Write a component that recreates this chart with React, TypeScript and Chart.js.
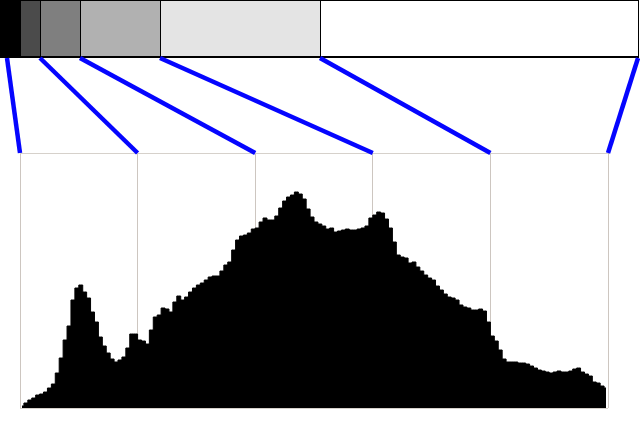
import React, { useEffect, useRef } from "react";
import { Chart, registerables } from "chart.js";

Chart.register(...registerables);

// Histogram heights (150 bins, 30 bins per tonal zone, 5 zones)
const binsPerZone = 30;
const histValues: number[] = [
  2, 5, 8, 10, 13, 14, 16, 20, 24, 35,
  50, 68, 82, 108, 120, 123, 116, 110, 96, 86,
  71, 62, 55, 49, 46, 48, 51, 60, 74, 74,
  68, 67, 64, 78, 91, 93, 100, 99, 96, 106,
  112, 108, 111, 116, 120, 123, 125, 128, 131, 132,
  132, 137, 143, 146, 158, 168, 172, 173, 175, 179,
  180, 186, 190, 188, 188, 192, 200, 207, 211, 213,
  216, 214, 209, 199, 191, 186, 184, 182, 179, 180,
  176, 177, 178, 179, 178, 178, 179, 180, 182, 190,
  193, 196, 195, 189, 180, 166, 153, 151, 150, 145,
  146, 141, 137, 133, 130, 128, 122, 118, 114, 111,
  110, 108, 103, 101, 100, 98, 98, 99, 97, 86,
  72, 67, 58, 49, 46, 46, 46, 45, 45, 44,
  42, 40, 38, 37, 36, 35, 36, 37, 36, 36,
  37, 39, 40, 36, 34, 32, 26, 25, 22, 20,
];
const zoneCount = 5;
const yMax = 255;

// Tonal strip (luminance 0..256)
const stripEdges: number[] = [0, 8, 16, 32, 64, 128, 256];
const stripColors: string[] = ["#000000", "#4b4b4b", "#7f7f7f", "#b1b1b1", "#e4e4e4", "#ffffff"];
// Connectors: strip luminance -> histogram zone boundary
const connectorLum: number[] = [2.8, 16, 32, 64, 128, 255.3];
const connectorZone: number[] = [0, 1, 2, 3, 4, 5];

const STRIP_H = 57;

const stripPlugin = {
  id: "zoneStrip",
  afterDraw(chart: any) {
    const ctx = chart.ctx as CanvasRenderingContext2D;
    const W = 639;
    const px = (l: number) => (l / 256) * 640;
    ctx.save();
    for (let i = 0; i < stripColors.length; i++) {
      const x0 = px(stripEdges[i]);
      const x1 = Math.min(px(stripEdges[i + 1]), W);
      ctx.fillStyle = stripColors[i];
      ctx.fillRect(x0, 0, x1 - x0, STRIP_H);
    }
    ctx.fillStyle = "#000";
    for (let i = 1; i < stripEdges.length - 1; i++) {
      ctx.fillRect(Math.round(px(stripEdges[i])), 0, 1, STRIP_H);
    }
    ctx.fillRect(0, 0, W, 1);
    ctx.fillRect(W - 1, 0, 1, STRIP_H);
    ctx.fillRect(0, STRIP_H - 1, W, 2);

    const xs = chart.scales.x;
    const top = chart.chartArea.top;
    ctx.strokeStyle = "#0505ff";
    ctx.lineWidth = 4.5;
    ctx.lineCap = "butt";
    for (let i = 0; i < connectorLum.length; i++) {
      ctx.beginPath();
      ctx.moveTo(Math.min(px(connectorLum[i]), W - 1), STRIP_H + 1);
      ctx.lineTo(xs.getPixelForValue(connectorZone[i]), top);
      ctx.stroke();
    }
    ctx.restore();
  },
};

export default function App() {
  const ref = useRef<HTMLCanvasElement | null>(null);
  useEffect(() => {
    if (!ref.current) return;
    const points = histValues.map((v, i) => ({ x: (i + 0.5) / binsPerZone, y: v }));
    const chart = new Chart(ref.current, {
      type: "line",
      data: {
        datasets: [
          {
            data: points,
            stepped: "middle",
            fill: "origin",
            backgroundColor: "#000000",
            borderColor: "#000000",
            borderWidth: 1,
            pointRadius: 0,
          },
        ],
      },
      options: {
        animation: false,
        responsive: false,
        layout: { padding: { left: 20, right: 32, top: 153, bottom: 14 } },
        plugins: { legend: { display: false }, tooltip: { enabled: false } },
        scales: {
          x: {
            type: "linear",
            min: 0,
            max: zoneCount,
            ticks: { stepSize: 1, display: false },
            grid: { color: "#cdc6c0", drawTicks: false },
            border: { display: false },
          },
          y: {
            min: 0,
            max: yMax,
            ticks: { stepSize: yMax, display: false },
            grid: { color: "#d6d1cb", drawTicks: false },
            border: { display: false },
          },
        },
      },
      plugins: [stripPlugin],
    });
    return () => chart.destroy();
  }, []);
  return (
    <div style={{ position: "fixed", left: 0, top: 0, width: 640, height: 422, background: "#fff" }}>
      <canvas ref={ref} width={640} height={422} />
    </div>
  );
}
